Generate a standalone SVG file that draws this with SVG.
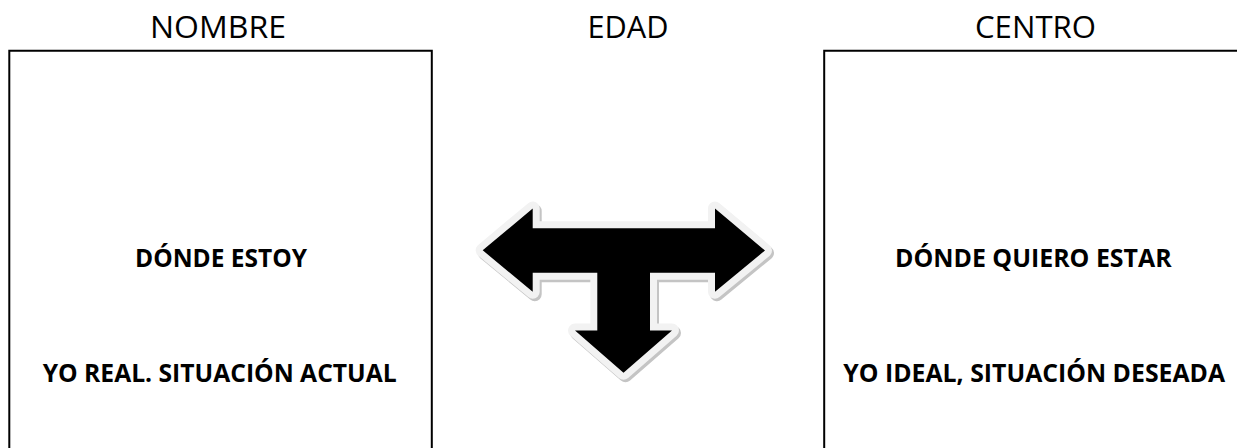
<svg xmlns="http://www.w3.org/2000/svg" width="1237" height="448" viewBox="0 0 1237 448">
  <style>
    .title { font-family: "Open Sans", "Liberation Sans", sans-serif; font-size: 31px; fill: #000; text-anchor: middle; }
    .label { font-family: "Open Sans", "Liberation Sans", sans-serif; font-size: 25px; font-weight: bold; fill: #000; text-anchor: middle; }
    .box { fill: none; stroke: #000; stroke-width: 2; }
  </style>
  <defs>
    <polygon id="tshape" points="482.7,250.3 532.7,208.5 532.7,228.3 715,228.3 715,208.5 765,250.5 715,291.7 715,272.7 650,272.7 650,330.5 672,330.5 623.5,372.7 575,330.5 597.3,330.5 597.3,272.7 532.7,272.7 532.7,291.7"/>
  </defs>
  <rect width="1237" height="448" fill="#fff"/>

  <g id="titles">
    <text class="title" x="218" y="38" textLength="136" lengthAdjust="spacingAndGlyphs">NOMBRE</text>
    <text class="title" x="628" y="37.5" textLength="81" lengthAdjust="spacingAndGlyphs">EDAD</text>
    <text class="title" x="1035.5" y="38" textLength="121" lengthAdjust="spacingAndGlyphs">CENTRO</text>
  </g>

  <g id="box-actual">
    <path class="box" d="M9.3,460 V50.8 H431.8 V460"/>
    <text class="label" x="221" y="267.3" textLength="172" lengthAdjust="spacingAndGlyphs">DÓNDE ESTOY</text>
    <text class="label" x="219.7" y="382.3" textLength="354" lengthAdjust="spacingAndGlyphs">YO REAL. SITUACIÓN ACTUAL</text>
  </g>

  <g id="box-deseada">
    <path class="box" d="M824.2,460 V50.8 H1246.7 V460"/>
    <text class="label" x="1033.3" y="266.7" textLength="276.7" lengthAdjust="spacingAndGlyphs">DÓNDE QUIERO ESTAR</text>
    <text class="label" x="1034.2" y="381.8" textLength="381.7" lengthAdjust="spacingAndGlyphs">YO IDEAL, SITUACIÓN DESEADA</text>
  </g>

  <g id="connectors">
    <g id="t-arrow">
      <use href="#tshape" transform="translate(2,2.5)" fill="#c4c4c4" stroke="#c4c4c4" stroke-width="14" stroke-linejoin="round"/>
      <use href="#tshape" fill="#f2f2f2" stroke="#f2f2f2" stroke-width="14" stroke-linejoin="round"/>
      <use href="#tshape" fill="#000"/>
    </g>
  </g>
</svg>
